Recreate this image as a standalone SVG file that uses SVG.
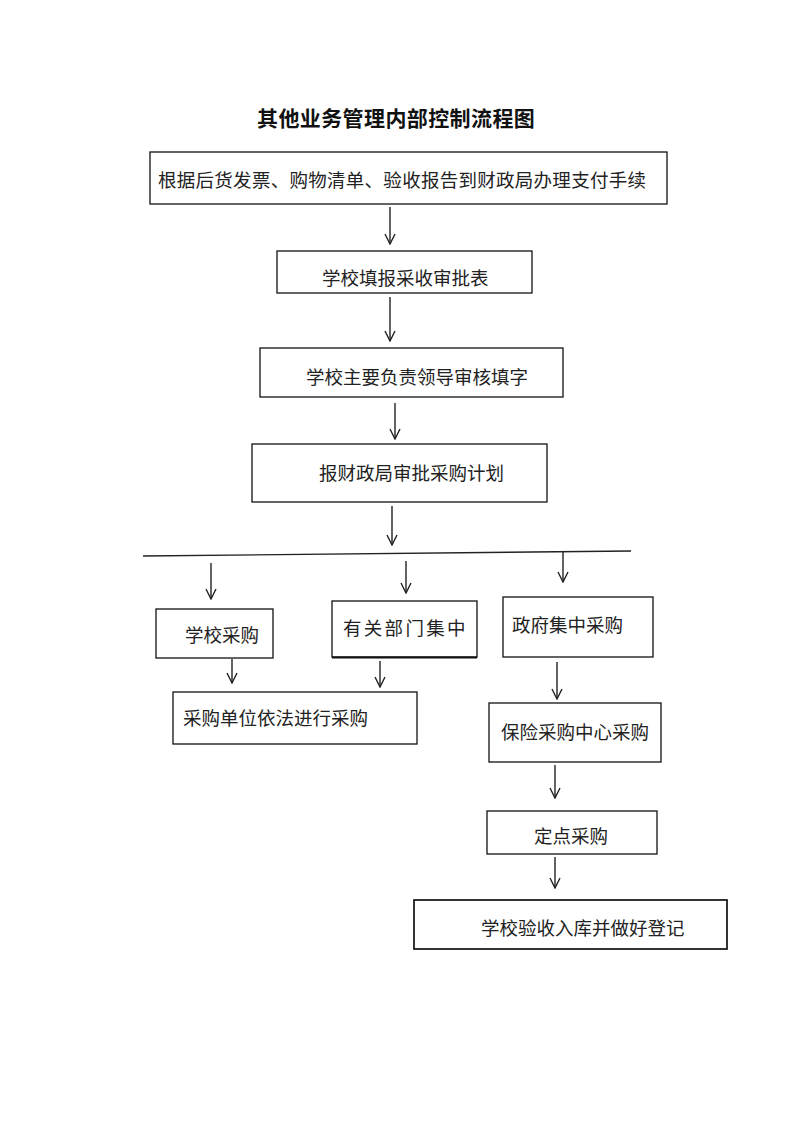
<svg xmlns="http://www.w3.org/2000/svg" width="793" height="1122" viewBox="0 0 793 1122">
<defs>
<style>
.box{fill:#fff;stroke:#111;stroke-width:1.3}
.t{font-family:"Noto Sans CJK SC","Noto Sans",sans-serif;font-size:18.5px;fill:#222}
.title{font-family:"Noto Sans CJK SC","Noto Sans",sans-serif;font-size:21px;font-weight:bold;fill:#111}
.c{stroke:#222;stroke-width:1.4;fill:none}
</style>
<marker id="ah" markerUnits="userSpaceOnUse" markerWidth="12" markerHeight="12" viewBox="0 0 12 12" refX="11" refY="6" orient="auto">
<path d="M1,1 L11,6 L1,11" fill="none" stroke="#222" stroke-width="1.4"/>
</marker>
</defs>
<rect width="793" height="1122" fill="#fff"/>
<text class="title" x="257" y="126" letter-spacing="0.4">其他业务管理内部控制流程图</text>

<g id="n1"><rect class="box" x="150" y="152" width="517" height="52"/><text class="t" x="158" y="186.5" textLength="488" lengthAdjust="spacing">根据后货发票、购物清单、验收报告到财政局办理支付手续</text></g>
<g id="n2"><rect class="box" x="277" y="251" width="255" height="42"/><text class="t" x="322" y="285">学校填报采收审批表</text></g>
<g id="n3"><rect class="box" x="260" y="348" width="303" height="49"/><text class="t" x="306" y="383.5">学校主要负责领导审核填字</text></g>
<g id="n4"><rect class="box" x="252" y="444" width="295" height="58"/><text class="t" x="319" y="479.5">报财政局审批采购计划</text></g>
<g id="n5"><rect class="box" x="156" y="609" width="117" height="49"/><text class="t" x="185" y="642">学校采购</text></g>
<g id="n6"><rect class="box" x="332" y="601" width="145" height="56"/><line x1="332" y1="657.5" x2="477" y2="657.5" stroke="#111" stroke-width="2"/><text class="t" x="343" y="635" letter-spacing="2.3">有关部门集中</text></g>
<g id="n7"><rect class="box" x="503" y="597" width="150" height="60"/><text class="t" x="512" y="631.5">政府集中采购</text></g>
<g id="n8"><rect class="box" x="173" y="692" width="244" height="52"/><text class="t" x="183" y="724.5">采购单位依法进行采购</text></g>
<g id="n9"><rect class="box" x="489" y="703" width="172" height="59"/><text class="t" x="501" y="739">保险采购中心采购</text></g>
<g id="n10"><rect class="box" x="487" y="811" width="170" height="43"/><text class="t" x="534" y="843">定点采购</text></g>
<g id="n11"><rect class="box" x="414" y="900" width="313" height="49" style="stroke-width:1.7"/><text class="t" x="481" y="934.5">学校验收入库并做好登记</text></g>

<g id="connectors">
<line class="c" x1="143" y1="556" x2="631" y2="551"/>
<line class="c" x1="390" y1="207" x2="390" y2="244" marker-end="url(#ah)"/>
<line class="c" x1="390" y1="297" x2="390" y2="341" marker-end="url(#ah)"/>
<line class="c" x1="395" y1="403" x2="395" y2="439" marker-end="url(#ah)"/>
<line class="c" x1="392" y1="506" x2="392" y2="545" marker-end="url(#ah)"/>
<line class="c" x1="211" y1="563" x2="211" y2="599" marker-end="url(#ah)"/>
<line class="c" x1="406" y1="561" x2="406" y2="593" marker-end="url(#ah)"/>
<line class="c" x1="563" y1="552" x2="563" y2="582" marker-end="url(#ah)"/>
<line class="c" x1="232" y1="659" x2="232" y2="683" marker-end="url(#ah)"/>
<line class="c" x1="380" y1="661" x2="380" y2="687" marker-end="url(#ah)"/>
<line class="c" x1="557" y1="662" x2="557" y2="699" marker-end="url(#ah)"/>
<line class="c" x1="555" y1="765" x2="555" y2="798" marker-end="url(#ah)"/>
<line class="c" x1="555" y1="857" x2="555" y2="888" marker-end="url(#ah)"/>
</g>
</svg>
